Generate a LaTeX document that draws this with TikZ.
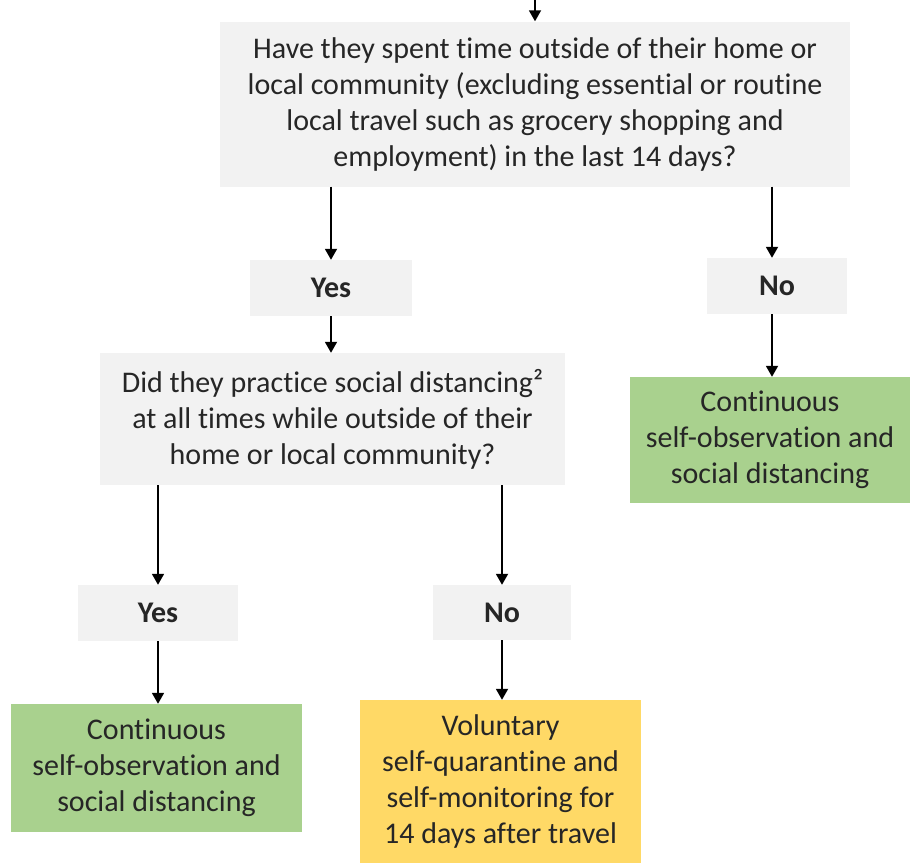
\documentclass[tikz,border=0pt]{standalone}
\usepackage{fontspec}
\setmainfont{Carlito}[RawFeature={-liga;-clig;-calt;-dlig;-rlig}]
\usetikzlibrary{arrows.meta}
\definecolor{boxgray}{HTML}{F2F2F2}
\definecolor{boxgreen}{HTML}{A9D18E}
\definecolor{boxyellow}{HTML}{FFD966}
\definecolor{txt}{HTML}{262626}
\tikzset{
  x=1pt, y=-1pt,
  box/.style={inner sep=0pt, align=center, text=txt, font=\fontsize{30}{36}\selectfont},
  graybox/.style={box, fill=boxgray},
  greenbox/.style={box, fill=boxgreen},
  yellowbox/.style={box, fill=boxyellow},
  answer/.style={graybox, font=\bfseries\fontsize{30}{36}\selectfont},
  arr/.style={draw=black, line width=1.8pt, -{Triangle[length=11pt,width=12pt]}},
}
\begin{document}
\begin{tikzpicture}
\useasboundingbox (0,0) rectangle (910,863);
\coordinate (start) at (535,0);
\node[graybox, minimum width=630pt, minimum height=165pt] (q1) at (535,104)
  {Have they spent time outside of their home or\\local community (excluding essential or routine\\local travel such as grocery shopping and\\employment) in the last 14 days?};
\node[answer, minimum width=162pt, minimum height=56pt] (yes1) at (331,288) {Yes};
\node[answer, minimum width=140pt, minimum height=56pt] (no1) at (777,286) {No};
\node[graybox, minimum width=465pt, minimum height=132pt] (q2) at (332.5,419)
  {Did they practice social distancing²\\at all times while outside of their\\home or local community?};
\node[greenbox, minimum width=280pt, minimum height=126pt] (g1) at (770,440)
  {Continuous\\self-observation and\\social distancing};
\node[answer, minimum width=160pt, minimum height=56pt] (yes2) at (158,613) {Yes};
\node[answer, minimum width=138pt, minimum height=55pt] (no2) at (502,612.5) {No};
\node[greenbox, minimum width=291pt, minimum height=128pt] (g2) at (156.5,768)
  {Continuous\\self-observation and\\social distancing};
\node[yellowbox, minimum width=281pt, minimum height=163pt] (y1) at (500.5,781.5)
  {Voluntary\\self-quarantine and\\self-monitoring for\\14 days after travel};
\draw[arr] (start) -- (q1.north -| start);
\draw[arr] (q1.south -| yes1) -- (yes1.north);
\draw[arr] ([xshift=-5pt]q1.south -| no1) -- ([xshift=-5pt]no1.north);
\draw[arr] (yes1.south) -- (yes1.south |- q2.north);
\draw[arr] ([xshift=-5pt]no1.south) -- ([xshift=-5pt]no1.south |- g1.north);
\draw[arr] (q2.south -| yes2) -- (yes2.north);
\draw[arr] (q2.south -| no2) -- (no2.north);
\draw[arr] (yes2.south) -- (yes2.south |- g2.north);
\draw[arr] (no2.south) -- (no2.south |- y1.north);
\end{tikzpicture}
\end{document}
